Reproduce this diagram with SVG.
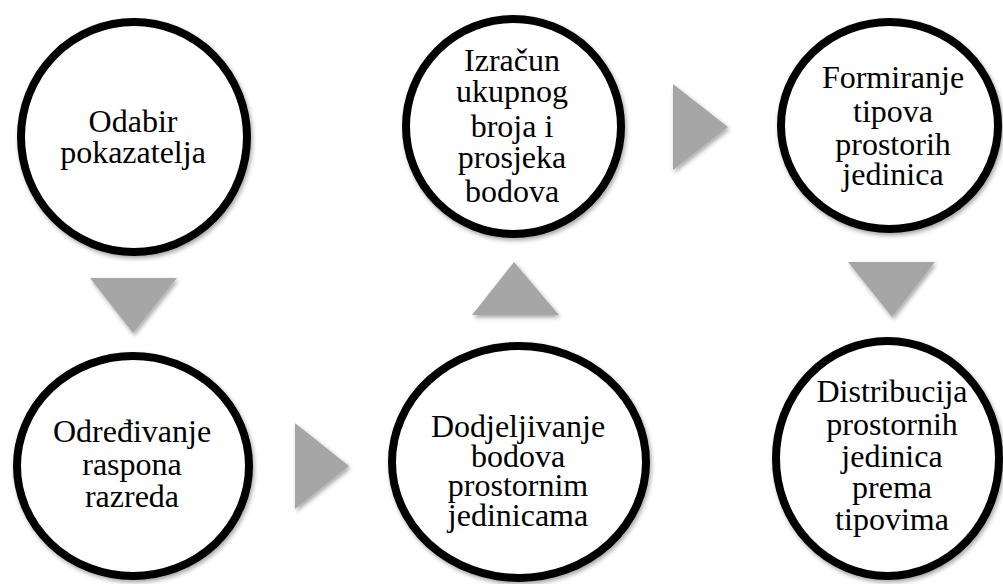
<svg xmlns="http://www.w3.org/2000/svg" width="1003" height="584" viewBox="0 0 1003 584">
<defs>
<filter id="sh" x="-20%" y="-20%" width="140%" height="140%">
<feDropShadow dx="1.5" dy="2.5" stdDeviation="2" flood-color="#000" flood-opacity="0.35"/>
</filter>
<style>
.node ellipse{fill:#fff;stroke:#000;stroke-width:8;filter:url(#sh)}
.node text{font-family:'Liberation Serif','Times New Roman',serif;font-size:32px;fill:#000;text-anchor:middle}
.arr{fill:#a6a6a6;filter:url(#sh)}
</style>
</defs>
<rect width="1003" height="584" fill="#fff"/>
<g id="connectors">
<polygon class="arr" points="90,278 177,278 133,333"/>
<polygon class="arr" points="295,423 295,509 349,466"/>
<polygon class="arr" points="472,315 559,315 514,262"/>
<polygon class="arr" points="673,84 673,170 728,127"/>
<polygon class="arr" points="848,262 935,262 892,317"/>
</g>
<g id="n1" class="node">
<ellipse cx="134" cy="137" rx="113" ry="115"/>
<text><tspan x="133" y="132">Odabir</tspan><tspan x="133" y="163">pokazatelja</tspan></text>
</g>
<g id="n2" class="node">
<ellipse cx="133" cy="466" rx="116" ry="110"/>
<text><tspan x="132" y="442">Određivanje</tspan><tspan x="132" y="475">raspona</tspan><tspan x="132" y="507">razreda</tspan></text>
</g>
<g id="n3" class="node">
<ellipse cx="519" cy="462" rx="127" ry="116"/>
<text><tspan x="518" y="437">Dodjeljivanje</tspan><tspan x="518" y="467">bodova</tspan><tspan x="518" y="496">prostornim</tspan><tspan x="518" y="526">jedinicama</tspan></text>
</g>
<g id="n4" class="node">
<ellipse cx="513.5" cy="126.5" rx="107.5" ry="107.5"/>
<text><tspan x="512" y="71">Izračun</tspan><tspan x="512" y="102">ukupnog</tspan><tspan x="512" y="137">broja i</tspan><tspan x="512" y="168">prosjeka</tspan><tspan x="512" y="202">bodova</tspan></text>
</g>
<g id="n5" class="node">
<ellipse cx="889.5" cy="125.5" rx="108.5" ry="103.5"/>
<text><tspan x="893" y="88">Formiranje</tspan><tspan x="893" y="122">tipova</tspan><tspan x="893" y="155">prostorih</tspan><tspan x="893" y="185">jedinica</tspan></text>
</g>
<g id="n6" class="node">
<ellipse cx="887.5" cy="458.5" rx="111.5" ry="117.5"/>
<text><tspan x="892" y="402">Distribucija</tspan><tspan x="892" y="435">prostornih</tspan><tspan x="892" y="467">jedinica</tspan><tspan x="892" y="498">prema</tspan><tspan x="892" y="530">tipovima</tspan></text>
</g>
</svg>
